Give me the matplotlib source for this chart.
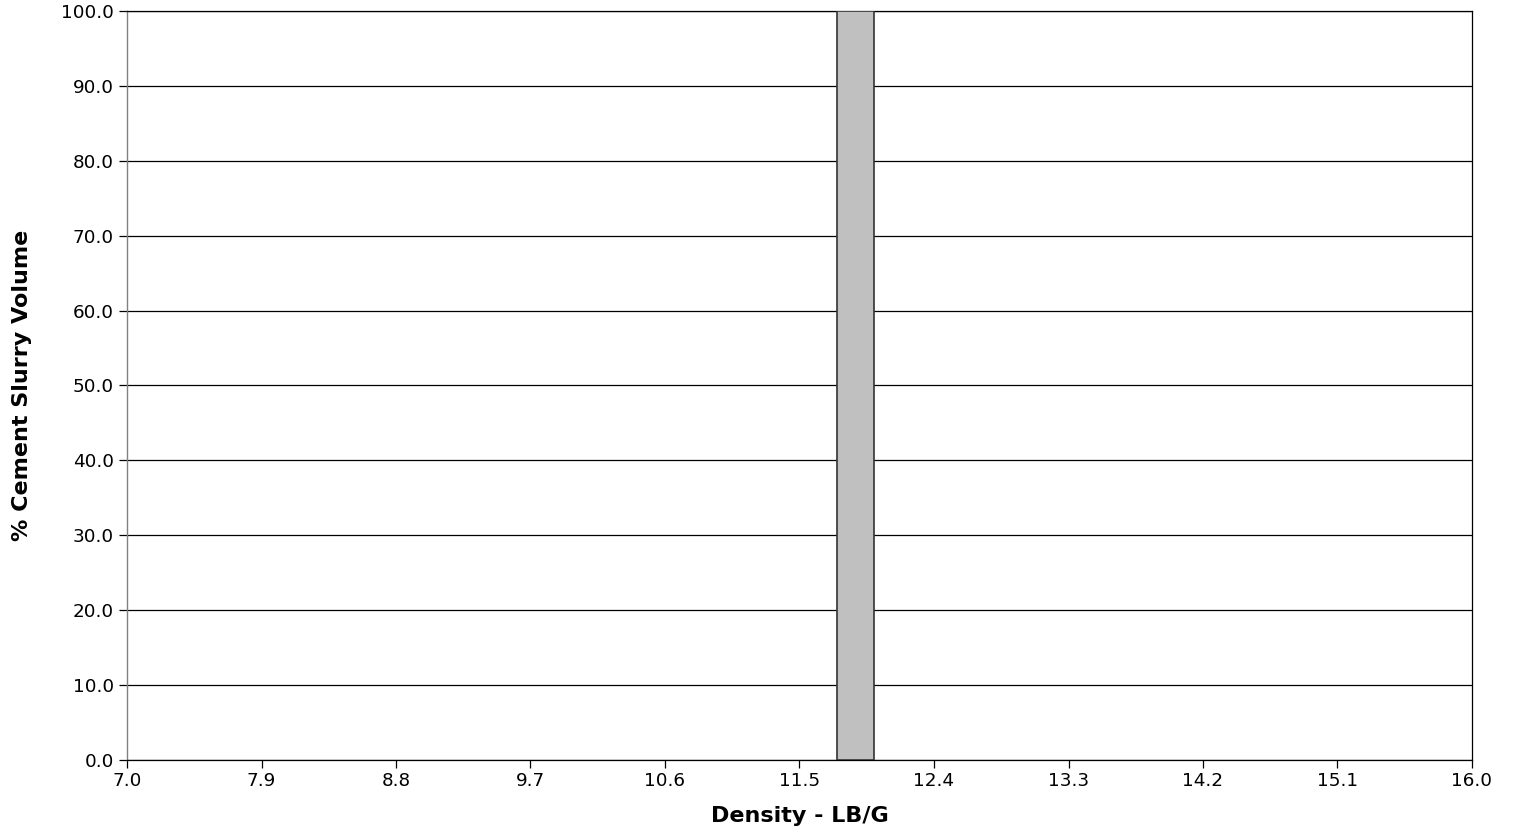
import matplotlib
matplotlib.use("Agg")
import matplotlib.pyplot as plt
import numpy as np

# Data
bin_left = [11.75]
bin_right = [12.0]
slurry_pct = [100.0]
x_ticks = [7.0, 7.9, 8.8, 9.7, 10.6, 11.5, 12.4, 13.3, 14.2, 15.1, 16.0]
y_ticks = [0.0, 10.0, 20.0, 30.0, 40.0, 50.0, 60.0, 70.0, 80.0, 90.0, 100.0]

plt.rcParams['font.family'] = ['DejaVu Sans']

fig = plt.figure(figsize=(15.15, 8.35), dpi=100)
ax = fig.add_axes([127/1515, 1 - 760/835, (1472-127)/1515, (760-11)/835])

for l, r, v in zip(bin_left, bin_right, slurry_pct):
    ax.bar(l, v, width=r - l, align='edge', color='#c0c0c0', edgecolor='#333333', linewidth=1.2, zorder=3)

ax.set_xlim(7.0, 16.0)
ax.set_ylim(0, 100)
ax.set_xticks(x_ticks)
ax.set_xticklabels([f"{t:.1f}" for t in x_ticks])
ax.set_yticks(y_ticks)
ax.set_yticklabels([f"{t:.1f}" for t in y_ticks])
ax.yaxis.grid(True, color='#000000', linewidth=0.9, zorder=0)
ax.set_axisbelow(True)

for s in ['top', 'right', 'bottom']:
    ax.spines[s].set_color('#000000')
    ax.spines[s].set_linewidth(0.9)
ax.spines['left'].set_color('#808080')
ax.spines['left'].set_linewidth(1.0)
ax.tick_params(axis='both', direction='out', length=6, width=0.9, colors='#000000', labelsize=13.2)
ax.tick_params(axis='x', pad=3)

ax.set_xlabel('Density - LB/G', fontsize=16, fontweight='bold')
ax.set_ylabel('% Cement Slurry Volume', fontsize=16, fontweight='bold')
ax.xaxis.set_label_coords(0.5, -0.062)
ax.yaxis.set_label_coords(-0.0705, 0.5)

fig.savefig('out.png', dpi=100)
